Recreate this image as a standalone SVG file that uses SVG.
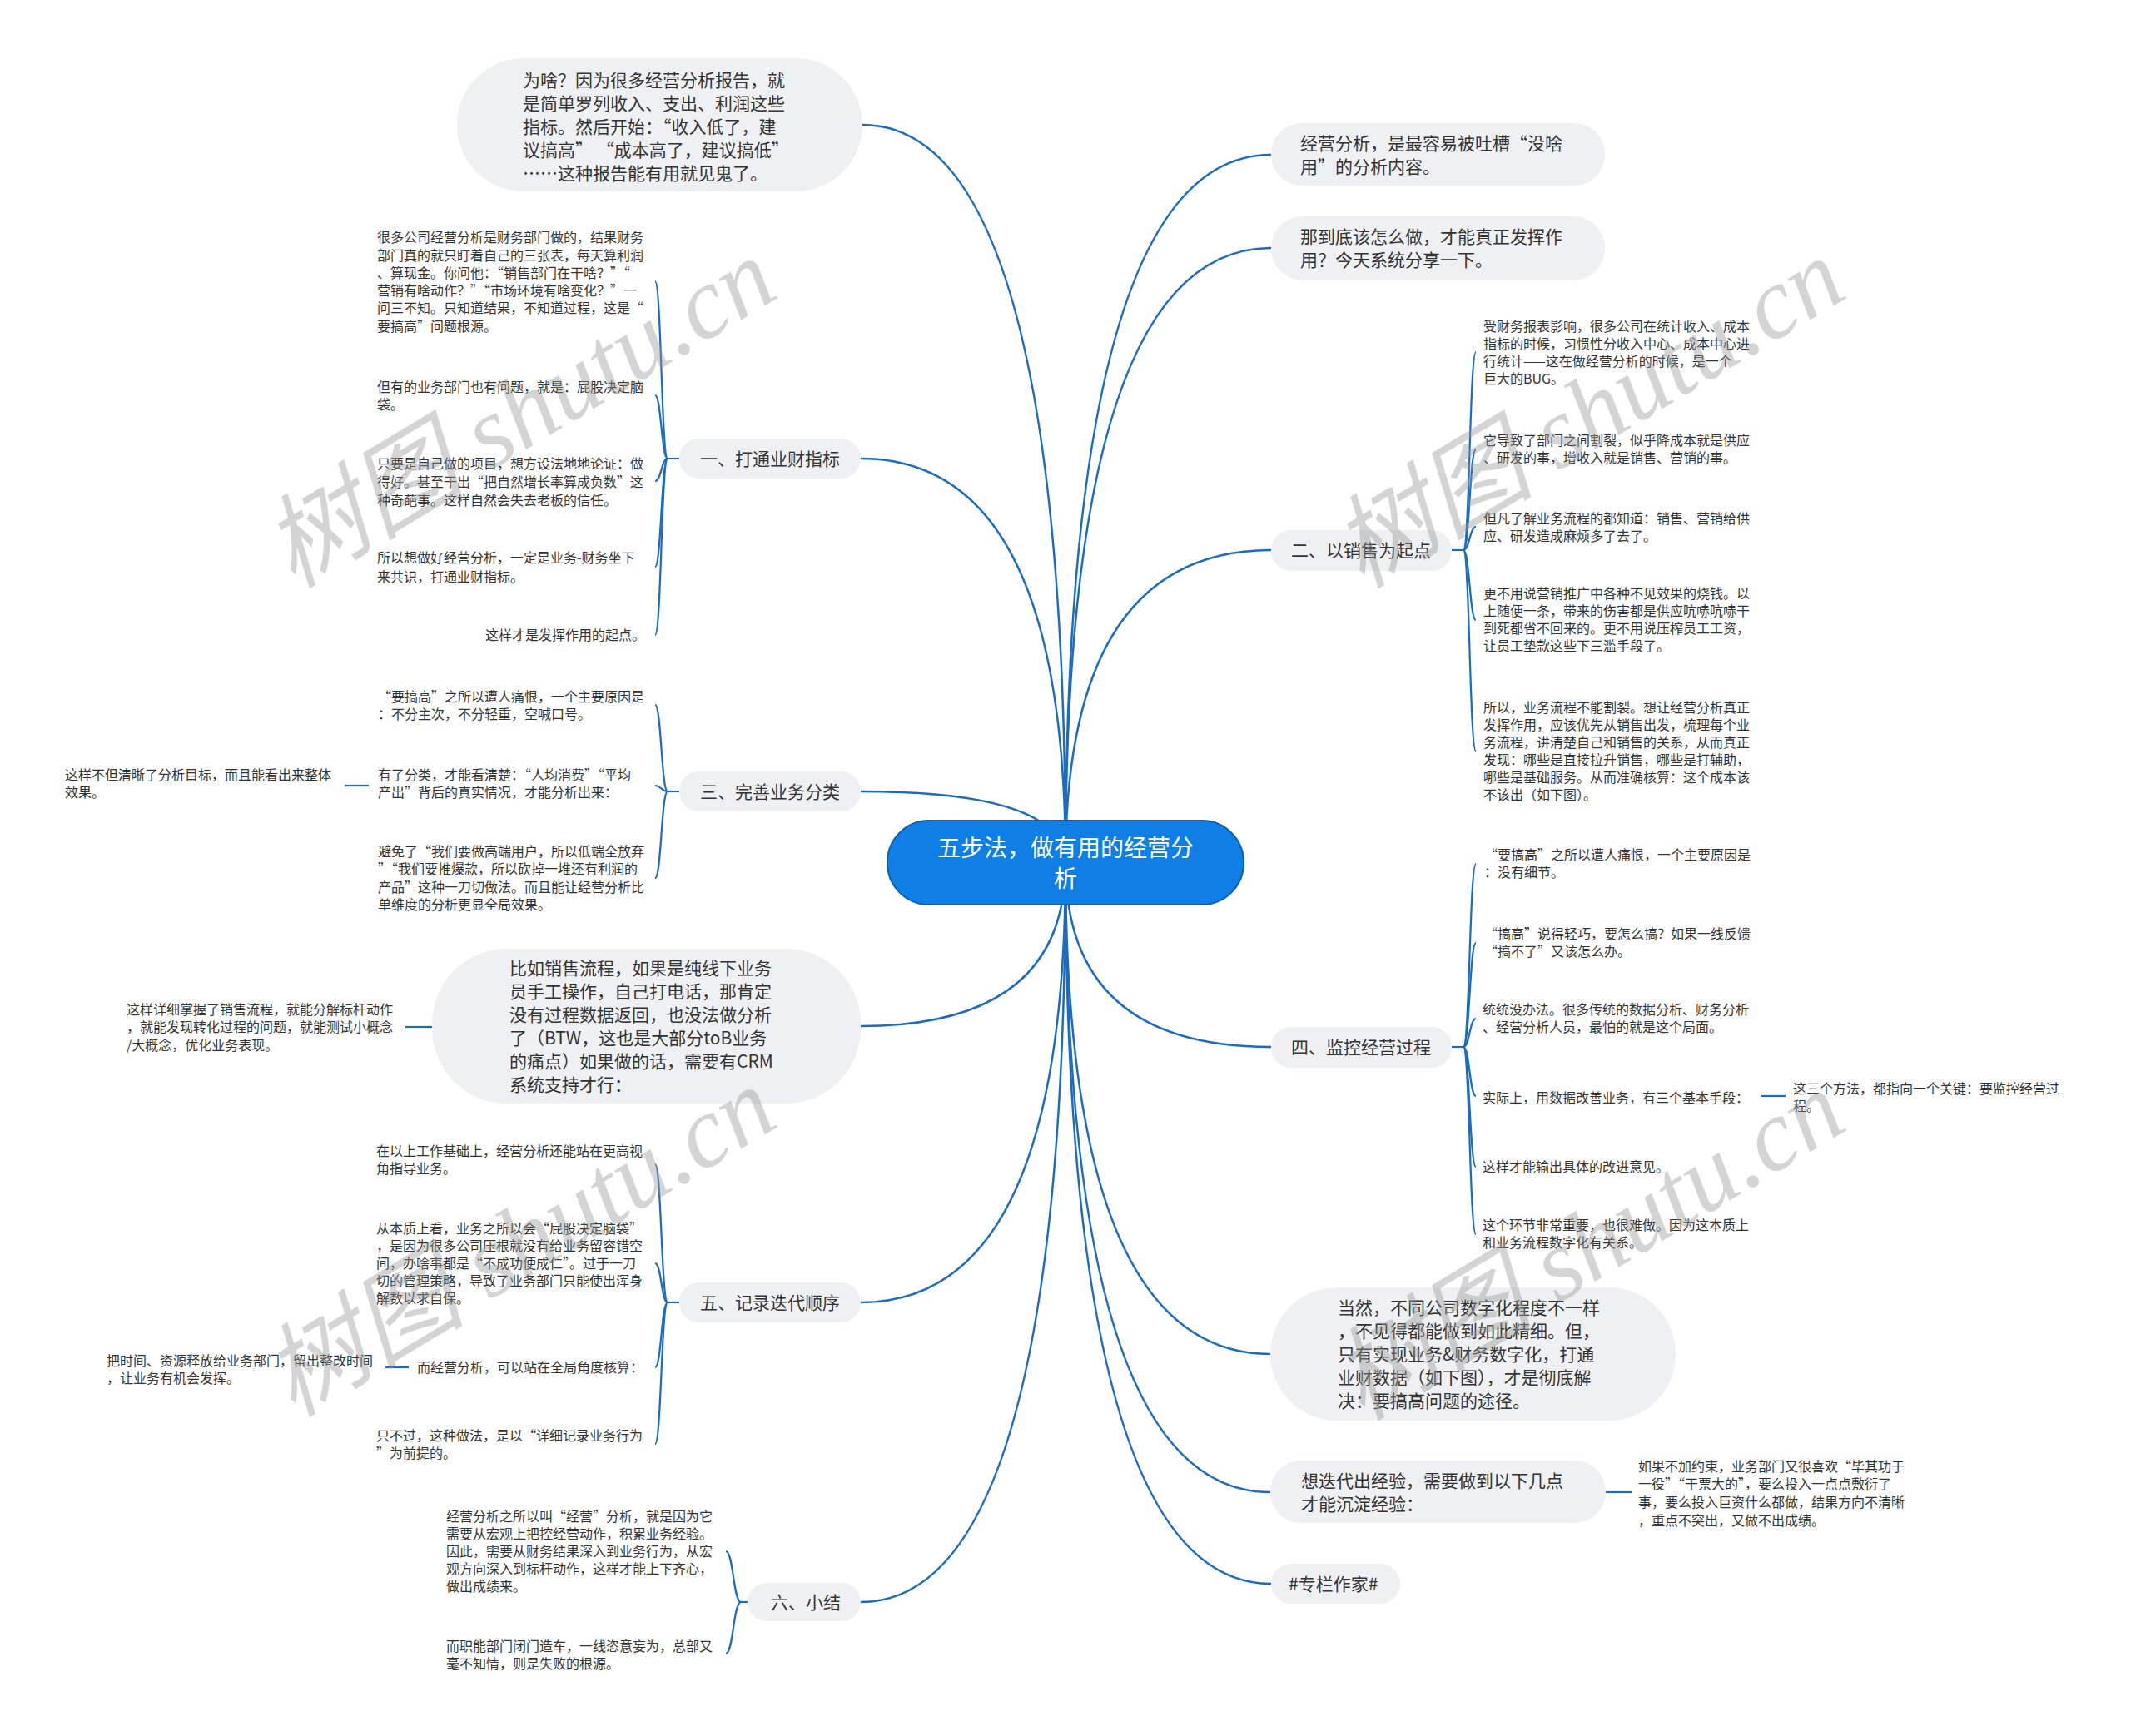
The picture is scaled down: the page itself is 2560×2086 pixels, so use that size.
<svg xmlns="http://www.w3.org/2000/svg" width="2560" height="2086" viewBox="0 0 2560 2086">
<style>
.conn{fill:none;stroke:#1b6cc0;stroke-width:2.5}
.br{fill:none;stroke:#1b6cc0;stroke-width:2.2}
.bub{fill:#eef0f3}
.t{font-family:'Noto Sans CJK SC',sans-serif;font-size:16px;fill:#333}
.m{font-family:'Noto Sans CJK SC',sans-serif;font-size:21px;fill:#333}
.wm{font-family:'Liberation Serif','Noto Sans CJK SC',serif;font-style:italic;font-size:122px;fill:#9a9a9a;opacity:0.42}
</style>
<rect width="2560" height="2086" fill="#ffffff"/>
<g id="connectors">
<path class="conn" d="M1280,1037 Q1280,150 1036,150"/>
<path class="conn" d="M1280,1037 Q1280,551 1034,551"/>
<path class="conn" d="M1280,1037 Q1280,951 1034,951"/>
<path class="conn" d="M1280,1037 Q1280,1233 1034,1233"/>
<path class="conn" d="M1280,1037 Q1280,1565 1034,1565"/>
<path class="conn" d="M1280,1037 Q1280,1925 1034,1925"/>
<path class="conn" d="M1280,1037 Q1280,186 1527,186"/>
<path class="conn" d="M1280,1037 Q1280,298 1527,298"/>
<path class="conn" d="M1280,1037 Q1280,661 1527,661"/>
<path class="conn" d="M1280,1037 Q1280,1258 1527,1258"/>
<path class="conn" d="M1280,1037 Q1280,1627 1526,1627"/>
<path class="conn" d="M1280,1037 Q1280,1793 1526,1793"/>
<path class="conn" d="M1280,1037 Q1280,1903 1527,1903"/>
<!-- 一 -->
<path class="br" d="M816,551 H802"/>
<path class="br" d="M802,551 C794.5,551 794.5,338 787,338"/>
<path class="br" d="M802,551 C794.5,551 794.5,475 787,475"/>
<path class="br" d="M802,551 C794.5,551 794.5,578 787,578"/>
<path class="br" d="M802,551 C794.5,551 794.5,681 787,681"/>
<path class="br" d="M802,551 C794.5,551 794.5,763 787,763"/>
<!-- 三 -->
<path class="br" d="M816,951 H802"/>
<path class="br" d="M802,951 C794.5,951 794.5,847 787,847"/>
<path class="br" d="M802,951 C794.5,951 794.5,944 787,944"/>
<path class="br" d="M802,951 C794.5,951 794.5,1055 787,1055"/>
<path class="br" d="M443,944 H414"/>
<!-- 比如 -->
<path class="br" d="M519,1234 H487"/>
<!-- 五 -->
<path class="br" d="M816,1565 H802"/>
<path class="br" d="M802,1565 C794.5,1565 794.5,1399 787,1399"/>
<path class="br" d="M802,1565 C794.5,1565 794.5,1518 787,1518"/>
<path class="br" d="M802,1565 C794.5,1565 794.5,1643 787,1643"/>
<path class="br" d="M802,1565 C794.5,1565 794.5,1735 787,1735"/>
<path class="br" d="M491,1643 H463"/>
<!-- 六 -->
<path class="br" d="M898,1925 H890"/>
<path class="br" d="M890,1925 C881,1925 881,1864 872,1864"/>
<path class="br" d="M890,1925 C881,1925 881,1987 872,1987"/>
<!-- 二 -->
<path class="br" d="M1744,661 H1758"/>
<path class="br" d="M1758,661 C1765.5,661 1765.5,423 1773,423"/>
<path class="br" d="M1758,661 C1765.5,661 1765.5,540 1773,540"/>
<path class="br" d="M1758,661 C1765.5,661 1765.5,633 1773,633"/>
<path class="br" d="M1758,661 C1765.5,661 1765.5,745 1773,745"/>
<path class="br" d="M1758,661 C1765.5,661 1765.5,903 1773,903"/>
<!-- 四 -->
<path class="br" d="M1744,1258 H1758"/>
<path class="br" d="M1758,1258 C1765.5,1258 1765.5,1038 1773,1038"/>
<path class="br" d="M1758,1258 C1765.5,1258 1765.5,1133 1773,1133"/>
<path class="br" d="M1758,1258 C1765.5,1258 1765.5,1224 1773,1224"/>
<path class="br" d="M1758,1258 C1765.5,1258 1765.5,1317 1773,1317"/>
<path class="br" d="M1758,1258 C1765.5,1258 1765.5,1402 1773,1402"/>
<path class="br" d="M1758,1258 C1765.5,1258 1765.5,1483 1773,1483"/>
<path class="br" d="M2116,1317 H2145"/>
<!-- 想迭代 -->
<path class="br" d="M1929,1793 H1960"/>
</g>

<g id="root">
<rect x="1066" y="986" width="428" height="101" rx="50" fill="#0f7fe6" stroke="#0b5fb3" stroke-width="2"/>
<text x="1280" y="1029" text-anchor="middle" font-family="'Noto Sans CJK SC',sans-serif" font-size="28" fill="#ffffff">五步法，做有用的经营分</text>
<text x="1280" y="1066" text-anchor="middle" font-family="'Noto Sans CJK SC',sans-serif" font-size="28" fill="#ffffff">析</text>
</g>

<g id="n-weisha">
<rect class="bub" x="549" y="70" width="487" height="160" rx="80"/>
<text class="m" x="628" y="104">为啥？因为很多经营分析报告，就</text>
<text class="m" x="628" y="132">是简单罗列收入、支出、利润这些</text>
<text class="m" x="628" y="160">指标。然后开始：“收入低了，建</text>
<text class="m" x="628" y="188">议搞高” “成本高了，建议搞低”</text>
<text class="m" x="628" y="216">……这种报告能有用就见鬼了。</text>
</g>

<g id="n-jingying">
<rect class="bub" x="1527" y="148" width="401" height="75" rx="37"/>
<text class="m" x="1562" y="180">经营分析，是最容易被吐槽“没啥</text>
<text class="m" x="1562" y="208">用”的分析内容。</text>
</g>

<g id="n-nadaodi">
<rect class="bub" x="1527" y="260" width="401" height="77" rx="38"/>
<text class="m" x="1562" y="292">那到底该怎么做，才能真正发挥作</text>
<text class="m" x="1562" y="320">用？今天系统分享一下。</text>
</g>

<g id="n-1">
<rect class="bub" x="816" y="527" width="218" height="48" rx="24"/>
<text class="m" x="841" y="559">一、打通业财指标</text>
</g>
<g id="n-1-1">
<text class="t" x="453" y="291">很多公司经营分析是财务部门做的，结果财务</text>
<text class="t" x="453" y="313">部门真的就只盯着自己的三张表，每天算利润</text>
<text class="t" x="453" y="334">、算现金。你问他：“销售部门在干啥？”“</text>
<text class="t" x="453" y="355">营销有啥动作？”“市场环境有啥变化？”一</text>
<text class="t" x="453" y="376">问三不知。只知道结果，不知道过程，这是“</text>
<text class="t" x="453" y="398">要搞高”问题根源。</text>
</g>
<g id="n-1-2">
<text class="t" x="453" y="471">但有的业务部门也有问题，就是：屁股决定脑</text>
<text class="t" x="453" y="492">袋。</text>
</g>
<g id="n-1-3">
<text class="t" x="453" y="563">只要是自己做的项目，想方设法地地论证：做</text>
<text class="t" x="453" y="585">得好。甚至干出“把自然增长率算成负数”这</text>
<text class="t" x="453" y="607">种奇葩事。这样自然会失去老板的信任。</text>
</g>
<g id="n-1-4">
<text class="t" x="453" y="676">所以想做好经营分析，一定是业务-财务坐下</text>
<text class="t" x="453" y="699">来共识，打通业财指标。</text>
</g>
<g id="n-1-5">
<text class="t" x="583" y="769">这样才是发挥作用的起点。</text>
</g>

<g id="n-3">
<rect class="bub" x="816" y="927" width="218" height="48" rx="24"/>
<text class="m" x="841" y="959">三、完善业务分类</text>
</g>
<g id="n-3-1">
<text class="t" x="454" y="843">“要搞高”之所以遭人痛恨，一个主要原因是</text>
<text class="t" x="454" y="864">：不分主次，不分轻重，空喊口号。</text>
</g>
<g id="n-3-2">
<text class="t" x="454" y="937">有了分类，才能看清楚：“人均消费”“平均</text>
<text class="t" x="454" y="958">产出”背后的真实情况，才能分析出来：</text>
</g>
<g id="n-3-2-1">
<text class="t" x="78" y="937">这样不但清晰了分析目标，而且能看出来整体</text>
<text class="t" x="78" y="958">效果。</text>
</g>
<g id="n-3-3">
<text class="t" x="454" y="1029">避免了“我们要做高端用户，所以低端全放弃</text>
<text class="t" x="454" y="1050">”“我们要推爆款，所以砍掉一堆还有利润的</text>
<text class="t" x="454" y="1072">产品”这种一刀切做法。而且能让经营分析比</text>
<text class="t" x="454" y="1093">单维度的分析更显全局效果。</text>
</g>

<g id="n-biru">
<rect class="bub" x="519" y="1140" width="515" height="186" rx="90"/>
<text class="m" x="612" y="1171">比如销售流程，如果是纯线下业务</text>
<text class="m" x="612" y="1199">员手工操作，自己打电话，那肯定</text>
<text class="m" x="612" y="1227">没有过程数据返回，也没法做分析</text>
<text class="m" x="612" y="1255">了（BTW，这也是大部分toB业务</text>
<text class="m" x="612" y="1283">的痛点）如果做的话，需要有CRM</text>
<text class="m" x="612" y="1311">系统支持才行：</text>
</g>
<g id="n-biru-1">
<text class="t" x="152" y="1219">这样详细掌握了销售流程，就能分解标杆动作</text>
<text class="t" x="152" y="1240">，就能发现转化过程的问题，就能测试小概念</text>
<text class="t" x="152" y="1262">/大概念，优化业务表现。</text>
</g>

<g id="n-5">
<rect class="bub" x="816" y="1541" width="218" height="48" rx="24"/>
<text class="m" x="841" y="1573">五、记录迭代顺序</text>
</g>
<g id="n-5-1">
<text class="t" x="452" y="1389">在以上工作基础上，经营分析还能站在更高视</text>
<text class="t" x="452" y="1410">角指导业务。</text>
</g>
<g id="n-5-2">
<text class="t" x="452" y="1482">从本质上看，业务之所以会“屁股决定脑袋”</text>
<text class="t" x="452" y="1503">，是因为很多公司压根就没有给业务留容错空</text>
<text class="t" x="452" y="1524">间，办啥事都是“不成功便成仁”。过于一刀</text>
<text class="t" x="452" y="1545">切的管理策略，导致了业务部门只能使出浑身</text>
<text class="t" x="452" y="1566">解数以求自保。</text>
</g>
<g id="n-5-3">
<text class="t" x="501" y="1649">而经营分析，可以站在全局角度核算：</text>
</g>
<g id="n-5-3-1">
<text class="t" x="128" y="1641">把时间、资源释放给业务部门，留出整改时间</text>
<text class="t" x="128" y="1662">，让业务有机会发挥。</text>
</g>
<g id="n-5-4">
<text class="t" x="452" y="1731">只不过，这种做法，是以“详细记录业务行为</text>
<text class="t" x="452" y="1752">”为前提的。</text>
</g>

<g id="n-6">
<rect class="bub" x="898" y="1902" width="136" height="46" rx="23"/>
<text class="m" x="926" y="1933">六、小结</text>
</g>
<g id="n-6-1">
<text class="t" x="536" y="1828">经营分析之所以叫“经营”分析，就是因为它</text>
<text class="t" x="536" y="1849">需要从宏观上把控经营动作，积累业务经验。</text>
<text class="t" x="536" y="1870">因此，需要从财务结果深入到业务行为，从宏</text>
<text class="t" x="536" y="1891">观方向深入到标杆动作，这样才能上下齐心，</text>
<text class="t" x="536" y="1912">做出成绩来。</text>
</g>
<g id="n-6-2">
<text class="t" x="536" y="1984">而职能部门闭门造车，一线恣意妄为，总部又</text>
<text class="t" x="536" y="2005">毫不知情，则是失败的根源。</text>
</g>

<g id="n-2">
<rect class="bub" x="1527" y="637" width="217" height="49" rx="24"/>
<text class="m" x="1551" y="669">二、以销售为起点</text>
</g>
<g id="n-2-1">
<text class="t" x="1782" y="398">受财务报表影响，很多公司在统计收入、成本</text>
<text class="t" x="1782" y="419">指标的时候，习惯性分收入中心、成本中心进</text>
<text class="t" x="1782" y="440">行统计——这在做经营分析的时候，是一个</text>
<text class="t" x="1782" y="461">巨大的BUG。</text>
</g>
<g id="n-2-2">
<text class="t" x="1782" y="535">它导致了部门之间割裂，似乎降成本就是供应</text>
<text class="t" x="1782" y="556">、研发的事，增收入就是销售、营销的事。</text>
</g>
<g id="n-2-3">
<text class="t" x="1782" y="629">但凡了解业务流程的都知道：销售、营销给供</text>
<text class="t" x="1782" y="650">应、研发造成麻烦多了去了。</text>
</g>
<g id="n-2-4">
<text class="t" x="1782" y="719">更不用说营销推广中各种不见效果的烧钱。以</text>
<text class="t" x="1782" y="740">上随便一条，带来的伤害都是供应吭哧吭哧干</text>
<text class="t" x="1782" y="761">到死都省不回来的。更不用说压榨员工工资，</text>
<text class="t" x="1782" y="782">让员工垫款这些下三滥手段了。</text>
</g>
<g id="n-2-5">
<text class="t" x="1782" y="856">所以，业务流程不能割裂。想让经营分析真正</text>
<text class="t" x="1782" y="877">发挥作用，应该优先从销售出发，梳理每个业</text>
<text class="t" x="1782" y="898">务流程，讲清楚自己和销售的关系，从而真正</text>
<text class="t" x="1782" y="919">发现：哪些是直接拉升销售，哪些是打辅助，</text>
<text class="t" x="1782" y="940">哪些是基础服务。从而准确核算：这个成本该</text>
<text class="t" x="1782" y="961">不该出（如下图）。</text>
</g>

<g id="n-4">
<rect class="bub" x="1527" y="1234" width="217" height="49" rx="24"/>
<text class="m" x="1551" y="1266">四、监控经营过程</text>
</g>
<g id="n-4-1">
<text class="t" x="1783" y="1033">“要搞高”之所以遭人痛恨，一个主要原因是</text>
<text class="t" x="1783" y="1054">：没有细节。</text>
</g>
<g id="n-4-2">
<text class="t" x="1783" y="1128">“搞高”说得轻巧，要怎么搞？如果一线反馈</text>
<text class="t" x="1783" y="1149">“搞不了”又该怎么办。</text>
</g>
<g id="n-4-3">
<text class="t" x="1781" y="1219">统统没办法。很多传统的数据分析、财务分析</text>
<text class="t" x="1781" y="1240">、经营分析人员，最怕的就是这个局面。</text>
</g>
<g id="n-4-4">
<text class="t" x="1781" y="1325">实际上，用数据改善业务，有三个基本手段：</text>
</g>
<g id="n-4-4-1">
<text class="t" x="2154" y="1314">这三个方法，都指向一个关键：要监控经营过</text>
<text class="t" x="2154" y="1335">程。</text>
</g>
<g id="n-4-5">
<text class="t" x="1781" y="1408">这样才能输出具体的改进意见。</text>
</g>
<g id="n-4-6">
<text class="t" x="1781" y="1478">这个环节非常重要，也很难做。因为这本质上</text>
<text class="t" x="1781" y="1499">和业务流程数字化有关系。</text>
</g>

<g id="n-dangran">
<rect class="bub" x="1526" y="1547" width="487" height="160" rx="80"/>
<text class="m" x="1607" y="1579">当然，不同公司数字化程度不一样</text>
<text class="m" x="1607" y="1607">，不见得都能做到如此精细。但，</text>
<text class="m" x="1607" y="1635">只有实现业务&amp;财务数字化，打通</text>
<text class="m" x="1607" y="1663">业财数据（如下图），才是彻底解</text>
<text class="m" x="1607" y="1691">决：要搞高问题的途径。</text>
</g>

<g id="n-diedai">
<rect class="bub" x="1526" y="1755" width="403" height="75" rx="37"/>
<text class="m" x="1563" y="1787">想迭代出经验，需要做到以下几点</text>
<text class="m" x="1563" y="1815">才能沉淀经验：</text>
</g>
<g id="n-diedai-1">
<text class="t" x="1968" y="1768">如果不加约束，业务部门又很喜欢“毕其功于</text>
<text class="t" x="1968" y="1789">一役”“干票大的”，要么投入一点点敷衍了</text>
<text class="t" x="1968" y="1811">事，要么投入巨资什么都做，结果方向不清晰</text>
<text class="t" x="1968" y="1833">，重点不突出，又做不出成绩。</text>
</g>

<g id="n-zhuanlan">
<rect class="bub" x="1527" y="1879" width="155" height="48" rx="24"/>
<text class="m" x="1548" y="1911">#专栏作家#</text>
</g>

<g id="watermark">
<text class="wm" x="352" y="708" transform="rotate(-31 352 708)">树图 shutu.cn</text>
<text class="wm" x="1636" y="708" transform="rotate(-31 1636 708)">树图 shutu.cn</text>
<text class="wm" x="352" y="1704" transform="rotate(-31 352 1704)">树图 shutu.cn</text>
<text class="wm" x="1636" y="1708" transform="rotate(-31 1636 1708)">树图 shutu.cn</text>
</g>
</svg>
